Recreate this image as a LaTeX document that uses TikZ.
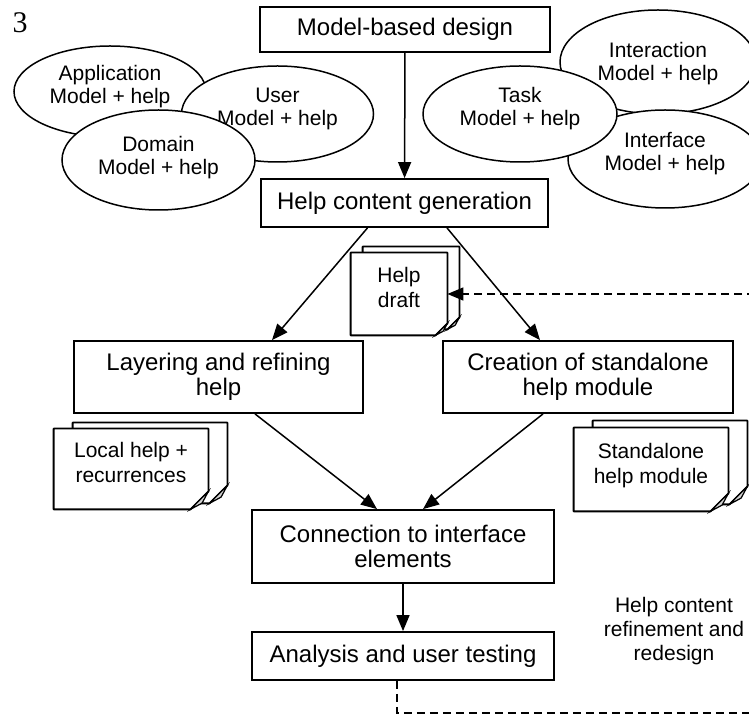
\documentclass[tikz,border=0pt]{standalone}
\usepackage{fontspec}
\setmainfont{Liberation Sans}
\newfontfamily\figfont{Liberation Serif}
\usetikzlibrary{arrows.meta,calc,backgrounds,shapes.geometric}

\begin{document}
\begin{tikzpicture}[x=0.5pt,y=-0.5pt,
	box/.style={draw,line width=0.9pt,align=center,inner sep=0pt,font=\fontsize{12}{12.5}\selectfont},
	model/.style={draw,ellipse,fill=white,line width=0.75pt,align=center,inner sep=0pt,minimum width=96pt,minimum height=48pt,font=\fontsize{10.5}{11.5}\selectfont,text depth=#1},
	model/.default=7.5pt,
	doc/.style={align=center,inner sep=0pt,font=\fontsize{10.5}{12.5}\selectfont,text depth=6.5pt},
	sheet/.style={draw,fill=white,line width=0.9pt,line join=round},
	flap/.style={draw,fill=gray!35,line width=0.6pt},
	arr/.style={-{Triangle[length=8pt,width=6.5pt]},line width=0.75pt},
	feedback/.style={arr,dash pattern=on 4pt off 2.5pt}]
	\useasboundingbox (0,0) rectangle (749,715);

	\node[font=\figfont\fontsize{15}{15}\selectfont,inner sep=0pt] (num) at (20,23) {3};

	% design stage
	\node[box,minimum width=145pt,minimum height=22.5pt] (mbd) at (405,29.5) {Model-based design};
	\node[model,minimum height=45.5pt] (app) at (110,91.5) {Application\\Model + help};
	\node[model] (user) at (277.5,114) {User\\Model + help};
	\node[model=5pt,minimum width=96.5pt,minimum height=50pt] (dom) at (158.5,160) {Domain\\Model + help};
	\node[model=1pt,minimum width=98pt,minimum height=52pt] (inter) at (658,62) {Interaction\\Model + help};
	\node[model,minimum width=97pt,minimum height=49pt] (iface) at (665,159) {Interface\\Model + help};
	\node[model,minimum width=97pt] (task) at (520,114) {Task\\Model + help};

	% help stages
	\node[box,minimum width=143.5pt,minimum height=24pt] (hcg) at (404.5,203) {Help content generation};
	\node[box,minimum width=144.5pt,minimum height=36pt] (layer) at (218.5,377) {Layering and refining\\help};
	\node[box,minimum width=145pt,minimum height=36pt] (crea) at (588,377) {Creation of standalone\\help module};
	\node[box,minimum width=151pt,minimum height=36.5pt] (conn) at (403,546.5) {Connection to interface\\elements};
	\node[box,minimum width=151pt,minimum height=24pt] (ana) at (403,656) {Analysis and user testing};

	% documents
	\node[doc,minimum width=48pt,minimum height=41pt] (draft) at (399,294) {Help\\draft};
	\node[doc,minimum width=77pt,minimum height=40pt] (local) at (131,469) {Local help +\\recurrences};
	\node[doc,minimum width=77pt,minimum height=41.5pt] (alone) at (651,469.5) {Standalone\\help module};
	\begin{scope}[on background layer]
		\foreach \d/\dx/\dy/\c in {draft/12/-6/12,local/19/-6/18,alone/19/-7/18}{
			\foreach \s in {1,0}{
				\coordinate (nw) at ($(\d.north west)+({\s*\dx},{\s*\dy})$);
				\coordinate (se) at ($(\d.south east)+({\s*\dx},{\s*\dy})$);
				\draw[sheet] (nw) -- (nw-|se) -- ($(se)+(0,-\c)$) -- ($(se)+(-\c,0)$) -- (nw|-se) -- cycle;
				\draw[flap] ($(se)+(0,-\c)$) -- ($(se)+(-\c,0)$) -- ($(se)+({-0.35*\c},{-0.35*\c})$) -- cycle;
			}
		}
	\end{scope}

	\node[align=center,font=\fontsize{10.5}{12}\selectfont] (redo) at (674,631) {Help content\\refinement and\\redesign};

	\draw[arr] (mbd) -- (hcg);
	\draw[arr] ([xshift=-18.5pt]hcg.south) -- ([xshift=26.75pt]layer.north);
	\draw[arr] ([xshift=21.25pt]hcg.south) -- ([xshift=-24pt]crea.north);
	\draw[arr] ([xshift=18.25pt]layer.south) -- ([xshift=-13pt]conn.north);
	\draw[arr] ([xshift=-22.5pt]crea.south) -- ([xshift=10pt]conn.north);
	\draw[arr] (conn) -- (ana);

	\coordinate (turn) at (760,713);
	\draw[feedback] ([xshift=-3pt]ana.south) |- (turn) |- (draft.east);
\end{tikzpicture}
\end{document}
